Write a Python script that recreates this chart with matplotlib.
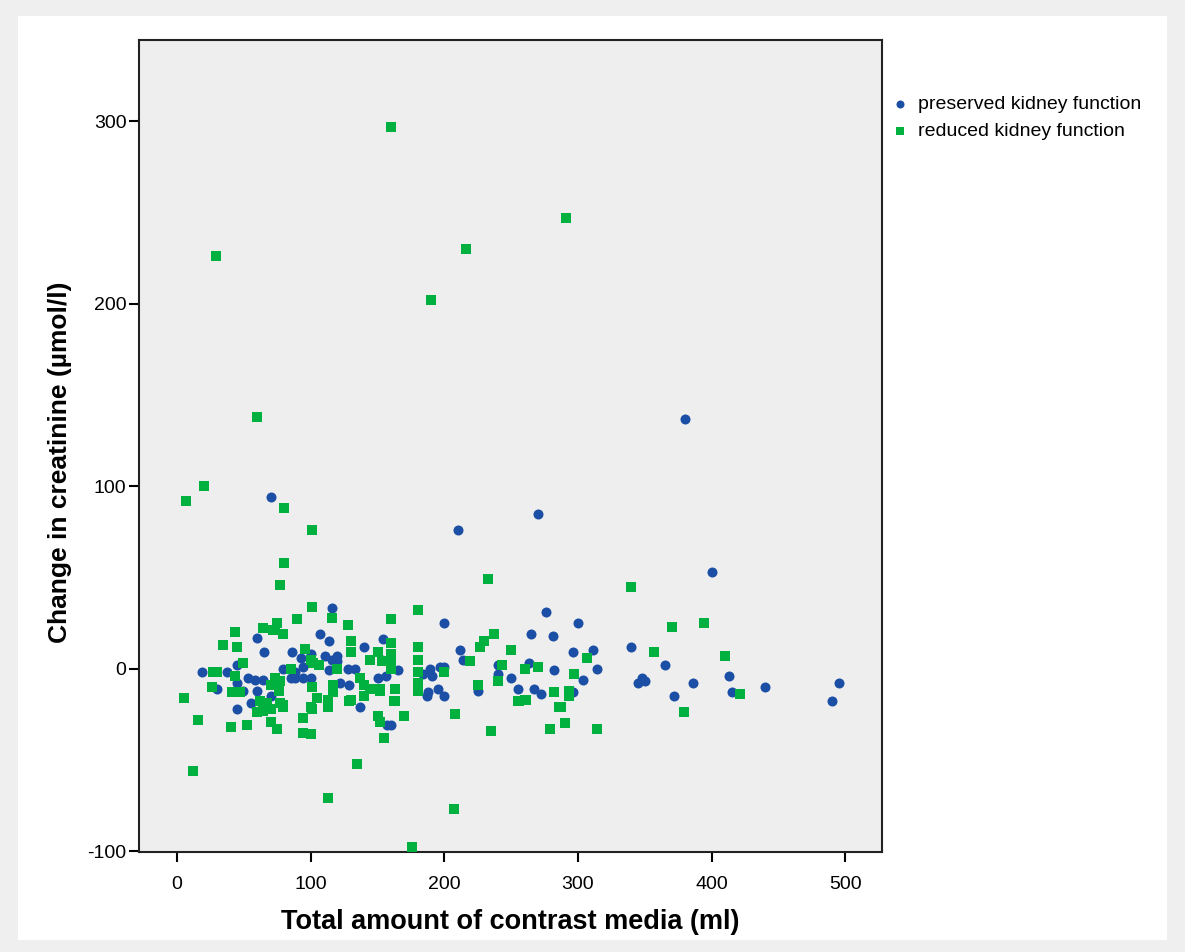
import matplotlib
matplotlib.use('Agg')
import matplotlib.pyplot as plt
import matplotlib.patches as mpatches

matplotlib.rcParams.update({
    'font.family': ['Liberation Sans', 'DejaVu Sans'],
    'font.size': 12,
    'axes.unicode_minus': False,
})

BLUE  = '#1B4FA6'
GREEN = '#00B140'
PANEL = '#EEEEEE'

# preserved kidney function (circles)
pres_x = [380, 70, 270, 210, 400, 276, 300, 200, 340, 365, 311, 314, 348, 350, 345,
          372, 386, 413, 415, 440, 490, 495, 265, 281, 296, 304, 282, 263, 240, 240,
          250, 255, 267, 272, 296, 154, 212, 214, 153, 165, 156, 189, 197, 200, 184,
          191, 195, 200, 188, 187, 225, 116, 107, 114, 140, 86, 93, 100, 111, 120,
          120, 116, 128, 133, 79, 88, 94, 114, 85, 88, 94, 100, 122, 129, 150,
          137, 70, 60, 65, 45, 19, 37, 45, 30, 49, 53, 58, 64, 60, 55,
          45, 157, 160]
pres_y = [137, 94, 85, 76, 53, 31, 25, 25, 12, 2, 10, 0, -5, -7, -8,
          -15, -8, -4, -13, -10, -18, -8, 19, 18, 9, -6, -1, 3, 2, -3,
          -5, -11, -11, -14, -13, 16, 10, 5, 5, -1, -4, 0, 1, 1, -3,
          -4, -11, -15, -13, -15, -12, 33, 19, 15, 12, 9, 6, 8, 7, 7,
          4, 5, 0, 0, 0, -2, 1, -1, -5, -5, -5, -5, -8, -9, -5,
          -21, -15, 17, 9, 2, -2, -2, -8, -11, -12, -5, -6, -6, -12, -19,
          -22, -31, -31]

# reduced kidney function (squares)
red_x = [160, 291, 216, 29, 190, 60, 20, 7, 80, 101, 80, 77, 233, 340, 394,
         370, 410, 357, 421, 379, 314, 207, 176, 113, 135, 12, 5, 16, 208, 235,
         237, 250, 243, 240, 260, 270, 307, 297, 282, 293, 293, 260, 256, 286, 180,
         160, 160, 160, 160, 160, 180, 180, 180, 180, 180, 152, 163, 163, 200, 219,
         227, 230, 225, 240, 279, 290, 287, 255, 261, 170, 162, 155, 101, 116, 90,
         75, 73, 79, 128, 130, 130, 150, 144, 153, 96, 100, 102, 106, 85, 120,
         77, 73, 76, 101, 117, 117, 137, 140, 144, 152, 105, 113, 130, 140, 100,
         77, 79, 27, 30, 26, 43, 41, 47, 34, 43, 45, 49, 64, 72, 75,
         70, 73, 62, 67, 40, 52, 60, 64, 70, 70, 75, 79, 94, 94, 100,
         101, 113, 129, 150, 152]
red_y = [297, 247, 230, 226, 202, 138, 100, 92, 88, 76, 58, 46, 49, 45, 25,
         23, 7, 9, -14, -24, -33, -77, -98, -71, -52, -56, -16, -28, -25, -34,
         19, 10, 2, -7, 0, 1, 6, -3, -13, -12, -15, -17, -18, -21, 32,
         27, 14, 8, 3, 0, 12, 5, -2, -8, -12, -11, -11, -18, -2, 4,
         12, 15, -9, -7, -33, -30, -21, -18, -17, -26, -18, -38, 34, 28, 27,
         25, 21, 19, 24, 15, 9, 9, 5, 4, 11, 5, 3, 2, 0, 0,
         -7, -9, -12, -10, -9, -13, -5, -9, -11, -12, -16, -17, -17, -15, -21,
         -19, -21, -2, -2, -10, -4, -13, -13, 13, 20, 12, 3, 22, 21, 25,
         -9, -5, -18, -19, -32, -31, -24, -23, -22, -29, -33, -20, -27, -35, -36,
         -22, -21, -18, -26, -29]

fig = plt.figure(figsize=(11.85, 9.52), dpi=100, facecolor='#EFEFEF')
bg = mpatches.Rectangle((18 / 1185, 12 / 952), 1149 / 1185, 924 / 952,
                        transform=fig.transFigure, facecolor='white',
                        edgecolor='none', zorder=-10)
fig.patches.append(bg)

ax = fig.add_axes([0.1173, 0.105, 0.627, 0.853])
ax.set_facecolor(PANEL)

ax.scatter(pres_x, pres_y, s=52, marker='o', color=BLUE, linewidths=0,
           label='preserved kidney function', zorder=3)
ax.scatter(red_x, red_y, s=56, marker='s', color=GREEN, linewidths=0,
           label='reduced kidney function', zorder=3)

ax.set_xlim(-28.5, 527.5)
ax.set_ylim(-100.5, 344.5)
ax.set_xticks([0, 100, 200, 300, 400, 500])
ax.set_yticks([-100, 0, 100, 200, 300])
ax.tick_params(direction='out', length=7, width=1.5, labelsize=14)
ax.tick_params(axis='x', pad=10)
ax.tick_params(axis='y', pad=2)
for sp in ax.spines.values():
    sp.set_linewidth(1.5)
    sp.set_color('#222222')

ax.set_xlabel('Total amount of contrast media (ml)', fontsize=19.5, fontweight='bold', labelpad=12)
ax.set_ylabel('Change in creatinine (\u00b5mol/l)', fontsize=19, fontweight='bold')
ax.yaxis.set_label_coords(-0.09, 0.48)

ax.legend(loc='upper left', bbox_to_anchor=(1.011, 0.932), frameon=False,
          fontsize=14, handletextpad=0.45, borderaxespad=0, borderpad=0,
          labelspacing=0.5, markerscale=0.8, handlelength=1.0)

plt.savefig('out.png', dpi=100, facecolor=fig.get_facecolor())
